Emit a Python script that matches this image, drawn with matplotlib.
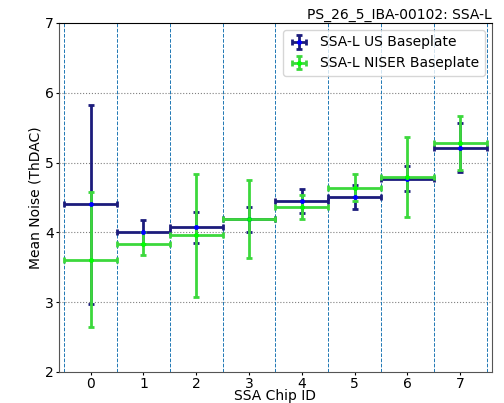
import numpy as np
import matplotlib.pyplot as plt

# data
chips = [0, 1, 2, 3, 4, 5, 6, 7]
us_mean = [4.40, 4.01, 4.07, 4.19, 4.45, 4.51, 4.77, 5.21]
us_err = [1.42, 0.17, 0.22, 0.18, 0.17, 0.17, 0.18, 0.35]
niser_mean = [3.61, 3.84, 3.96, 4.19, 4.36, 4.64, 4.79, 5.28]
niser_err = [0.97, 0.17, 0.88, 0.56, 0.17, 0.19, 0.57, 0.39]
title = 'PS_26_5_IBA-00102: SSA-L'

tam = 10

fig = plt.figure(figsize=(5.04, 4.03), dpi=100)
ax = fig.add_axes([0.117, 0.077, 0.859, 0.866])

ax.errorbar(chips, us_mean, xerr=0.5, yerr=us_err, fmt='.', color='blue',
            ecolor='#1c1c7c', elinewidth=2, capsize=2, capthick=2,
            markersize=5, label='SSA-L US Baseplate', zorder=3)
ax.errorbar(chips, niser_mean, xerr=0.5, yerr=niser_err, fmt='.', color='lime',
            ecolor='#3cd83c', elinewidth=2, capsize=2, capthick=2,
            markersize=5, label='SSA-L NISER Baseplate', zorder=3)

# grid: dotted horizontal, dashed vertical between chips
for y in [3, 4, 5, 6]:
    ax.axhline(y, color='gray', linestyle=':', linewidth=0.8, zorder=1)
for x in np.arange(-0.5, 8, 1):
    ax.axvline(x, color='#1f77b4', linestyle='--', linewidth=0.7, zorder=1)

ax.set_xlim(-0.6, 7.6)
ax.set_ylim(2, 7)
ax.set_xticks(chips)
ax.set_yticks([2, 3, 4, 5, 6, 7])
ax.tick_params(labelsize=tam, length=2.5, pad=1)
ax.set_xlabel('SSA Chip ID', fontsize=tam, labelpad=-1)
ax.set_ylabel('Mean Noise (ThDAC)', fontsize=tam, labelpad=2)
ax.set_title(title, loc='right', fontsize=tam, pad=3)

for side in ['bottom', 'left', 'right']:
    ax.spines[side].set_color('#555555')

ax.legend(loc='upper right', fontsize=tam, framealpha=0.8, handlelength=1.5)

plt.savefig('out.png', dpi=100)
